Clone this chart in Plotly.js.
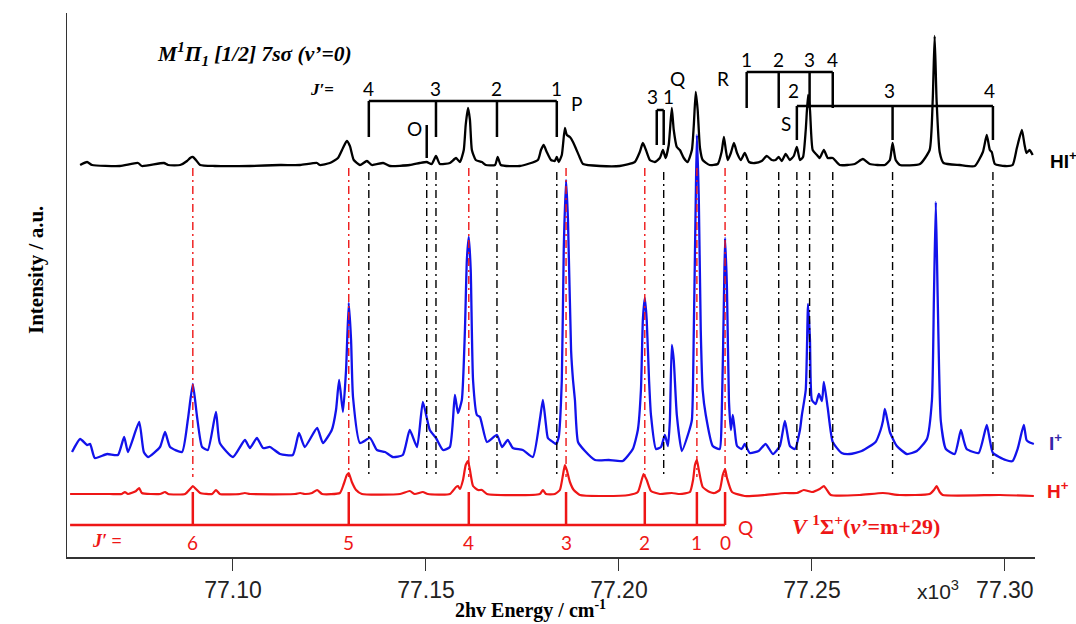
<!DOCTYPE html>
<html><head><meta charset="utf-8">
<script src="https://cdn.plot.ly/plotly-3.0.1.min.js"></script>
<style>html,body{margin:0;padding:0;background:#fff}#chart{width:1076px;height:624px}</style>
</head><body><div id="chart"></div>
<script>
// ---- HI+ (black) : energy (x10^3 cm-1) and intensity (a.u.) ----
const hiX = [
77.0604,77.0622,77.0635,77.0707,77.0754,77.0764,77.0821,77.0832,77.0863,77.0881,
77.0889,77.0896,77.0904,77.0915,77.0953,77.1044,77.1122,77.1174,77.1218,77.1225,
77.1251,77.1272,77.1285,77.1295,77.1303,77.1313,77.1329,77.1347,77.1360,77.1389,
77.1407,77.1458,77.1484,77.1502,77.1515,77.1526,77.1536,77.1562,77.1578,77.1588,
77.1598,77.1603,77.1609,77.1614,77.1619,77.1629,77.1645,77.1655,77.1679,77.1686,
77.1694,77.1743,77.1790,77.1798,77.1805,77.1813,77.1824,77.1834,77.1839,77.1844,
77.1852,77.1860,77.1865,77.1873,77.1881,77.1888,77.1899,77.1907,77.1951,77.2002,
77.2041,77.2054,77.2062,77.2070,77.2080,77.2093,77.2106,77.2114,77.2121,77.2129,
77.2137,77.2142,77.2150,77.2158,77.2168,77.2178,77.2189,77.2194,77.2199,77.2204,
77.2210,77.2217,77.2235,77.2256,77.2266,77.2272,77.2277,77.2282,77.2290,77.2298,
77.2306,77.2316,77.2326,77.2337,77.2352,77.2370,77.2383,77.2396,77.2406,77.2414,
77.2422,77.2432,77.2443,77.2453,77.2461,77.2469,77.2477,77.2484,77.2490,77.2495,
77.2502,77.2513,77.2520,77.2531,77.2541,77.2554,77.2572,77.2611,77.2632,77.2650,
77.2689,77.2702,77.2709,77.2717,77.2728,77.2780,77.2805,77.2813,77.2818,77.2823,
77.2831,77.2841,77.2883,77.2922,77.2943,77.2953,77.2961,77.2966,77.2974,77.3000,
77.3020,77.3031,77.3044,77.3051,77.3056,77.3064,77.3072];
const hiY = [
1,4,1,0,3,0,3,1,1,5,
8,9,6,1,0,0,1,1,3,1,
3,8,18,25,20,6,1,5,1,3,
0,1,3,4,2,10,2,3,8,4,
16,41,58,46,16,6,4,1,1,9,
1,0,6,16,21,14,6,5,9,4,
11,38,31,29,24,18,8,2,0,0,
4,14,23,16,6,4,8,16,8,21,
58,36,19,16,8,4,16,41,74,56,
18,6,1,2,14,29,16,6,13,23,
13,6,13,4,3,5,10,6,6,9,
5,12,6,10,19,6,9,36,71,56,
16,11,8,16,8,8,1,2,7,2,
1,6,23,6,1,2,16,66,130,66,
14,3,1,0,14,31,16,14,2,0,
1,18,36,21,13,16,11];

// ---- I+ (blue) ----
const iX = [
77.0583,77.0604,77.0622,77.0630,77.0642,77.0674,77.0702,77.0718,77.0728,77.0757,
77.0769,77.0780,77.0811,77.0824,77.0837,77.0868,77.0883,77.0896,77.0907,77.0920,
77.0935,77.0956,77.0966,77.1000,77.1031,77.1044,77.1062,77.1078,77.1096,77.1122,
77.1155,77.1171,77.1186,77.1218,77.1233,77.1256,77.1267,77.1275,77.1285,77.1293,
77.1300,77.1306,77.1311,77.1329,77.1355,77.1373,77.1394,77.1414,77.1440,77.1458,
77.1477,77.1492,77.1510,77.1526,77.1544,77.1562,77.1575,77.1583,77.1593,77.1601,
77.1606,77.1611,77.1616,77.1622,77.1632,77.1640,77.1658,77.1684,77.1697,77.1712,
77.1725,77.1751,77.1777,77.1795,77.1803,77.1811,77.1816,77.1829,77.1837,77.1844,
77.1852,77.1857,77.1863,77.1868,77.1876,77.1881,77.1886,77.1894,77.1912,77.1938,
77.1974,77.2010,77.2036,77.2049,77.2057,77.2062,77.2067,77.2072,77.2078,77.2083,
77.2096,77.2109,77.2119,77.2127,77.2132,77.2137,77.2142,77.2150,77.2163,77.2181,
77.2189,77.2194,77.2199,77.2202,77.2207,77.2212,77.2217,77.2225,77.2243,77.2261,
77.2266,77.2272,77.2275,77.2280,77.2285,77.2290,77.2295,77.2300,77.2306,77.2318,
77.2326,77.2339,77.2362,77.2380,77.2399,77.2417,77.2430,77.2443,77.2456,77.2469,
77.2474,77.2484,77.2490,77.2495,77.2500,77.2510,77.2518,77.2526,77.2531,77.2541,
77.2554,77.2577,77.2598,77.2629,77.2665,77.2678,77.2684,77.2689,77.2696,77.2702,
77.2720,77.2746,77.2772,77.2798,77.2811,77.2816,77.2821,77.2826,77.2834,77.2847,
77.2870,77.2886,77.2893,77.2901,77.2932,77.2953,77.2961,77.2969,77.3002,77.3020,
77.3033,77.3049,77.3056,77.3062,77.3075];
const iY = [
10,23,17,18,4,8,7,25,10,40,
10,5,15,30,15,10,42,78,45,15,
12,50,19,5,22,14,24,14,15,8,
7,29,15,34,19,32,52,82,50,92,
159,122,65,19,24,12,10,5,7,32,
15,60,32,24,12,15,67,49,62,132,
202,225,192,82,47,45,20,27,15,22,
14,12,5,42,62,37,24,20,18,25,
82,212,282,242,112,82,62,20,11,2,
2,1,13,32,72,142,164,142,82,47,
13,15,27,16,42,117,102,47,11,30,
42,132,262,327,262,132,72,47,16,13,
42,162,224,172,62,32,47,32,16,13,
18,9,11,18,8,16,41,16,13,32,
47,72,158,122,62,58,68,61,80,54,
20,9,8,11,20,32,41,53,41,30,
16,8,11,23,62,162,260,162,41,13,
8,32,22,13,9,37,22,9,2,1,
13,37,22,20,18];

// ---- H+ (red) ----
const hX = [
77.0578,77.0681,77.0712,77.0720,77.0728,77.0749,77.0757,77.0764,77.0811,77.0824,
77.0832,77.0876,77.0889,77.0896,77.0904,77.0915,77.0946,77.0956,77.0966,77.1018,
77.1031,77.1044,77.1161,77.1174,77.1186,77.1205,77.1218,77.1231,77.1277,77.1287,
77.1295,77.1300,77.1308,77.1319,77.1334,77.1433,77.1458,77.1471,77.1492,77.1505,
77.1562,77.1578,77.1583,77.1588,77.1596,77.1603,77.1609,77.1614,77.1622,77.1635,
77.1645,77.1658,77.1795,77.1803,77.1811,77.1834,77.1847,77.1855,77.1860,77.1865,
77.1873,77.1883,77.1899,77.1951,77.2026,77.2049,77.2059,77.2064,77.2072,77.2083,
77.2106,77.2137,77.2158,77.2184,77.2192,77.2197,77.2202,77.2207,77.2217,77.2235,
77.2248,77.2261,77.2269,77.2275,77.2280,77.2293,77.2326,77.2378,77.2430,77.2461,
77.2479,77.2490,77.2500,77.2520,77.2531,77.2539,77.2549,77.2624,77.2684,77.2728,
77.2805,77.2816,77.2823,77.2831,77.2839,77.2987,77.3075];
const hY = [
3,3,3,5,3,6,9,4,3,5,
3,3,8,11,8,4,3,7,3,3,
4,3,3,4,3,4,7,3,4,13,
22,24,15,7,3,3,6,3,5,3,
3,10,11,8,17,32,36,27,11,7,
7,3,3,7,3,3,7,22,32,27,
15,7,2,1,2,5,17,23,17,6,
3,4,3,5,17,32,37,27,10,5,
4,7,22,28,19,5,1,2,4,4,
7,6,5,8,11,7,2,2,4,2,
3,7,11,5,2,2,1];

// ---- axis ticks ----
const tickVals = [77.10, 77.15, 77.20, 77.25, 77.30];
const tickLabels = ["77.10", "77.15", "77.20", "77.25", "77.30"];

// ---- line assignments ----
const vJ = [6, 5, 4, 3, 2, 1, 0];                       // V 1Sigma+ Q branch
const vPos = [77.0896, 77.1300, 77.1611, 77.1863, 77.2067, 77.2202, 77.2275];
const pJ = [4, 3, 2, 1];
const pPos = [77.1352, 77.1526, 77.1684, 77.1839];
const oPos = [77.1502];
const qJ = [3, 1];
const qPos = [77.2098, 77.2116];
const rJ = [1, 2, 3, 4];
const rPos = [77.2331, 77.2414, 77.2494, 77.2554];
const sJ = [2, 3, 4];
const sPos = [77.2461, 77.2709, 77.2969];

// ---- drawing ----
const HI_BASE = 391, I_BASE = 95, H_BASE = 60;
const BLUE = 'rgb(18,18,235)', RED = 'rgb(238,22,22)', BLK = '#000';
const SERIF = 'Liberation Serif, Times New Roman, serif';
const SANS = 'Liberation Sans, Arial, sans-serif';
const LBL = 'Lato, Carlito, Liberation Sans, sans-serif';
const L = 67, R = 1035, T = 13, B = 557;
const px2paperX = p => (p - L) / (R - L);
const px2paperY = p => (B - p) / (B - T);

const traces = [
  {x: hiX, y: hiY.map(v => v + HI_BASE), mode: 'lines', line: {color: BLK, width: 2.3, shape: 'spline', smoothing: 0.5}, name: 'HI+'},
  {x: iX, y: iY.map(v => v + I_BASE), mode: 'lines', line: {color: BLUE, width: 2.3, shape: 'spline', smoothing: 0.5}, name: 'I+'},
  {x: hX, y: hY.map(v => v + H_BASE), mode: 'lines', line: {color: RED, width: 2.2, shape: 'spline', smoothing: 0.5}, name: 'H+'}
];

const shapes = [];
const seg = (x0, y0, x1, y1, color, width, dash) =>
  shapes.push({type: 'line', xref: 'x', yref: 'y', x0, y0, x1, y1,
               line: {color, width, dash: dash || 'solid'}});
const DD = '8px,4px,2px,4px';

// dash-dot guide lines
const dashLines = [...pPos, ...oPos, qPos[1], ...rPos, ...sPos];
dashLines.forEach(v => seg(v, 385, v, 79, BLK, 1.4, DD));
vPos.forEach(v => seg(v, 389, v, 80, RED, 1.4, DD));

// P branch bracket
seg(pPos[0], 456, pPos[pPos.length - 1], 456, BLK, 2.5);
pPos.forEach(v => seg(v, 456, v, 420, BLK, 2.5));
// O line
seg(oPos[0], 432, oPos[0], 399, BLK, 2.5);
// Q bracket
seg(qPos[0], 412, qPos[0], 447, BLK, 2.5);
seg(qPos[0], 447, qPos[1], 447, BLK, 2.5);
seg(qPos[1], 447, qPos[1], 412, BLK, 2.5);
// R branch bracket
seg(rPos[0], 485, rPos[rPos.length - 1], 485, BLK, 2.5);
rPos.forEach(v => seg(v, 485, v, 449, BLK, 2.5));
// S branch bracket
seg(sPos[0], 451, sPos[sPos.length - 1], 451, BLK, 2.5);
sPos.forEach(v => seg(v, 451, v, 417, BLK, 2.5));
// V state Q-branch bracket (red)
shapes.push({type: 'line', xref: 'x', yref: 'y', x0: 77.0578, x1: vPos[vPos.length - 1], y0: 32, y1: 32, line: {color: RED, width: 2.5}});
vPos.forEach(v => seg(v, 32, v, 65, RED, 2.5));

const ann = [];
const A = (text, x, y, font, extra) => ann.push(Object.assign(
  {text, x, y, xref: 'x', yref: 'y', showarrow: false, font, xanchor: 'center', yanchor: 'middle'}, extra || {}));
const fLbl = {family: LBL, size: 19, color: BLK};
const fRed = {family: LBL, size: 19, color: RED};

pJ.forEach((j, k) => A(String(j), pPos[k], 469, fLbl));
A('O', 77.1471, 429, fLbl);
A('P', 77.1889, 454, fLbl);
qJ.forEach((j, k) => A(String(j), qPos[k], 461, fLbl, {xshift: k === 0 ? -4 : 5}));
A('Q', 77.2153, 479, fLbl);
rJ.forEach((j, k) => A(String(j), rPos[k], 498, fLbl));
A('R', 77.2269, 479, fLbl);
sJ.forEach((j, k) => A(String(j), sPos[k], 467, fLbl, {xshift: -3}));
A('S', 77.2433, 434, fLbl);

vJ.forEach((j, k) => A(String(j), vPos[k], 15, fRed));
A('Q', 77.2329, 30, fRed);
A('<b><i>V</i> <sup>1</sup>Σ<sup>+</sup>(<i>v’</i>=m+29)</b>', 77.2640, 32, {family: SERIF, size: 22, color: RED});
A('<b><i>J′</i> =</b>', px2paperX(107), 16, {family: SERIF, size: 18, color: RED}, {xref: 'paper'});

A('<b><i>M<sup>1</sup>Π<sub>1</sub> [1/2] 7sσ (v’=0)</i></b>', px2paperX(254), 503, {family: SERIF, size: 21.5, color: BLK}, {xref: 'paper'});
A('<b><i>J′</i>=</b>', px2paperX(322), 468, {family: SERIF, size: 17, color: BLK}, {xref: 'paper'});

A('<b>HI<sup>+</sup></b>', px2paperX(1063), 397, {family: SANS, size: 19, color: BLK}, {xref: 'paper'});
A('<b>I<sup>+</sup></b>', px2paperX(1055), 115, {family: SANS, size: 19, color: '#3426a8'}, {xref: 'paper'});
A('<b>H<sup>+</sup></b>', px2paperX(1058), 67, {family: SANS, size: 19, color: RED}, {xref: 'paper'});

A('<b>Intensity / a.u.</b>', px2paperX(36), px2paperY(270), {family: SERIF, size: 21, color: BLK}, {xref: 'paper', yref: 'paper', textangle: -90});
A('<b>2hv Energy / cm<sup>-1</sup></b>', px2paperX(530), px2paperY(609), {family: SERIF, size: 20, color: BLK}, {xref: 'paper', yref: 'paper'});
A('x10<sup>3</sup>', px2paperX(938), px2paperY(590), {family: SANS, size: 21, color: '#222'}, {xref: 'paper', yref: 'paper'});

const layout = {
  width: 1076, height: 624,
  margin: {l: L, r: 1076 - R, t: T, b: 624 - B, pad: 0},
  paper_bgcolor: '#fff', plot_bgcolor: '#fff',
  showlegend: false,
  xaxis: {range: [77.0570, 77.3078], tickmode: 'array', tickvals: tickVals, ticktext: tickLabels,
          ticks: 'outside', ticklen: 12, tickwidth: 1, tickcolor: '#333',
          showline: true, linecolor: '#333', linewidth: 1.5, mirror: false,
          showgrid: false, zeroline: false,
          tickfont: {family: SANS, size: 23, color: '#222'}},
  yaxis: {range: [0, 544], showline: true, linecolor: '#333', linewidth: 1.5,
          showticklabels: false, ticks: '', showgrid: false, zeroline: false},
  shapes, annotations: ann
};
Plotly.newPlot('chart', traces, layout, {displayModeBar: false, staticPlot: true});
</script></body></html>
